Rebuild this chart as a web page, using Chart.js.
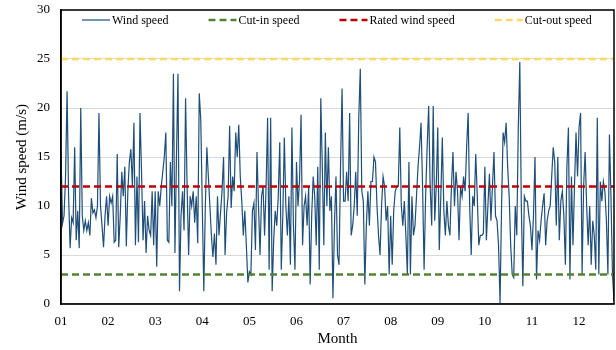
<!DOCTYPE html>
<html>
<head>
<meta charset="utf-8">
<script src="https://cdn.jsdelivr.net/npm/chart.js@4"></script>
<style>
  html, body { margin: 0; padding: 0; background: #fff; }
  #wrap { width: 616px; height: 350px; }
</style>
</head>
<body>
<div id="wrap"><canvas id="chart" width="616" height="350"></canvas></div>
<script>
// daily mean wind speed (m/s)
const windSpeed = [
  15.5, 8.2, 9.0, 13, 21.7, 11, 5.7, 8.8, 8.3, 16.0, 6.5, 9.5, 5.7, 20.0, 9, 7.5, 8.5, 7.5, 8.3, 7.0, 10.8, 9.3, 9.6, 8.8, 10.0, 19.5,
  10, 8, 5.8, 9, 11, 8, 11, 10.3, 11, 6.3, 6.5, 15.3, 5.8, 9, 13.5, 11, 14, 5.9, 11.5, 14.5, 15.8, 12, 18.5, 6, 13, 6.3, 19.5, 13.5, 6.5, 10.5, 5.2, 9, 7.5, 7, 11.5, 6, 11.5, 3.8,
  11.5, 10, 12, 13.5, 15, 17.5, 6.5, 6.3, 14.5, 10, 23.5, 5.2, 15, 23.5, 1.3, 9, 11.5, 7.5, 21, 12, 5, 11, 10, 11.5, 8.3, 11, 6.2, 21.5, 18.8, 10, 1.3, 10, 16, 13, 10, 7, 4.8, 7.2,
  4, 11, 7, 9.3, 11.5, 15, 5, 9.3, 11, 18.2, 9.8, 13, 11.5, 17.5, 15, 18.3, 13, 10.5, 7, 9.5, 6, 2.2, 3.3, 3, 9.5, 10.3, 5.5, 15.5, 10, 5, 11, 12, 7, 12, 19, 3.5, 19, 1.3, 6.5,
  9.5, 8, 11, 16.5, 3.5, 9, 17, 10, 7, 11, 4, 18, 8, 3.5, 14.5, 10, 12.5, 19.3, 6, 10, 11, 8, 12, 2, 9, 13, 11, 6, 14, 3.5, 21, 14, 6, 17.5, 10, 16, 9.5, 11,
  0.6, 8, 13, 5, 4, 14, 22, 10.5, 10.5, 13.5, 10.5, 19.5, 7, 8, 10, 13.5, 9, 19, 24, 11.5, 10.5, 2, 8, 11.5, 8, 12.5, 12.5, 15, 14.5, 10, 7, 5, 10, 13, 12, 8.5, 10, 3,
  9, 4, 9.5, 11.5, 12, 12, 18, 10, 8, 10.5, 7, 3, 14.5, 3, 11, 7, 8, 11, 14, 16, 18.5, 12, 3.5, 11, 16, 20.2, 12, 8, 20.2, 8.5, 12, 18, 5.5, 11, 17, 9.5, 7, 10.5, 8,
  7, 12, 15.5, 10, 13.5, 11.5, 6.5, 12, 11, 13, 11.5, 16, 19.5, 10, 5, 11, 10, 15.3, 11, 6, 7, 7, 7.2, 14, 6.5, 10, 13.3, 8.5, 12, 15.5, 9, 8.5, 6, 0.1, 10, 17.5, 16.5,
  18.5, 14, 11, 6, 3, 2.7, 10, 7, 18, 24.7, 10, 1.8, 11, 10.5, 10.5, 9, 8, 5.5, 9, 15, 2.5, 7.5, 6.5, 8.5, 10, 11.3, 6, 8.5, 9.5, 10, 13, 16, 14.5, 8, 15, 6.5, 10.5, 11.5,
  9, 4, 14, 18, 2.5, 13, 6, 12, 17.5, 13, 18, 19.5, 3, 12, 15.5, 10, 6, 10, 4, 8.5, 7, 3.5, 19, 3, 12.5, 10.5, 12.5, 11.5, 8.5, 3, 17.3, 11, 3, 0.3
];

const monthLabels = ["01", "02", "03", "04", "05", "06", "07", "08", "09", "10", "11", "12"];
const daysPerLabel = 31;

const cutInSpeed = 3;
const ratedSpeed = 12;
const cutOutSpeed = 25;

const yTicks = [0, 5, 10, 15, 20, 25, 30];

const lastDay = windSpeed.length - 1;
function flatLine(v) {
  return [{ x: 0, y: v }, { x: lastDay, y: v }];
}

Chart.defaults.font.family = '"Liberation Serif", "Times New Roman", serif';
Chart.defaults.color = "#000";

// plot frame
const framePlugin = {
  id: "frame",
  afterDraw(chart) {
    const { ctx, chartArea: a } = chart;
    ctx.save();
    ctx.strokeStyle = "#000";
    ctx.lineWidth = 1.5;
    ctx.strokeRect(a.left, a.top, a.right - a.left, a.bottom - a.top);
    ctx.restore();
  }
};

// legend sits inside the plot, one row across the top
const insideLegend = {
  id: "insideLegend",
  afterDraw(chart) {
    const { ctx, chartArea: a } = chart;
    ctx.save();
    ctx.font = '12px "Liberation Serif", "Times New Roman", serif';
    ctx.textBaseline = "middle";
    let x = a.left + 21;
    const y = a.top + 10;
    chart.data.datasets.forEach(ds => {
      ctx.strokeStyle = ds.borderColor;
      ctx.lineWidth = ds.borderWidth;
      ctx.setLineDash(ds.borderDash || []);
      ctx.beginPath();
      ctx.moveTo(x, y);
      ctx.lineTo(x + 28, y);
      ctx.stroke();
      ctx.setLineDash([]);
      ctx.fillStyle = "#000";
      ctx.fillText(ds.label, x + 30, y + 1);
      x += 30 + ctx.measureText(ds.label).width + 40;
    });
    ctx.restore();
  }
};

const ctx = document.getElementById("chart").getContext("2d");

new Chart(ctx, {
  type: "line",
  data: {
    datasets: [
      {
        label: "Wind speed",
        data: windSpeed.map((v, i) => ({ x: i, y: v })),
        borderColor: "#1f4e79",
        borderWidth: 1.2,
        pointRadius: 0,
        tension: 0,
        order: 2
      },
      {
        label: "Cut-in speed",
        data: flatLine(cutInSpeed),
        borderColor: "#548235",
        borderWidth: 2.5,
        borderDash: [7, 4],
        pointRadius: 0,
        order: 1
      },
      {
        label: "Rated wind speed",
        data: flatLine(ratedSpeed),
        borderColor: "#c00000",
        borderWidth: 2.5,
        borderDash: [7, 4],
        pointRadius: 0,
        order: 1
      },
      {
        label: "Cut-out speed",
        data: flatLine(cutOutSpeed),
        borderColor: "#ffd966",
        borderWidth: 2.5,
        borderDash: [7, 4],
        pointRadius: 0,
        order: 1
      }
    ]
  },
  options: {
    responsive: false,
    animation: false,
    devicePixelRatio: 1,
    layout: { padding: { top: 10, right: 2, left: 0, bottom: 0 } },
    plugins: {
      legend: { display: false },
      tooltip: { enabled: false }
    },
    scales: {
      x: {
        type: "linear",
        min: 0,
        max: lastDay,
        afterBuildTicks: scale => {
          scale.ticks = monthLabels.map((_, m) => ({ value: m * daysPerLabel }));
        },
        afterFit: scale => { scale.height = 46; },
        ticks: {
          autoSkip: false,
          maxRotation: 0,
          padding: 10,
          font: { size: 13 },
          callback: value => monthLabels[Math.round(value / daysPerLabel)]
        },
        grid: { display: false, drawTicks: false },
        border: { display: true, color: "#7f7f7f", width: 1.5 },
        title: {
          display: true,
          text: "Month",
          font: { size: 15 },
          padding: { top: 0, bottom: 2 }
        }
      },
      y: {
        min: 0,
        max: 30,
        afterBuildTicks: scale => {
          scale.ticks = yTicks.map(v => ({ value: v }));
        },
        afterFit: scale => {
          scale.width = 61;
          // tick padding is only meant to push labels left, not down
          scale.paddingTop = 0;
          scale.paddingBottom = 0;
        },
        ticks: {
          padding: 11,
          font: { size: 13 }
        },
        grid: { color: "#d9d9d9", lineWidth: 1, drawTicks: false },
        border: { display: true, color: "#000", width: 1.5 },
        title: {
          display: true,
          text: "Wind speed (m/s)",
          font: { size: 15 },
          padding: { top: 13, bottom: 0 }
        }
      }
    }
  },
  plugins: [framePlugin, insideLegend]
});
</script>
</body>
</html>
